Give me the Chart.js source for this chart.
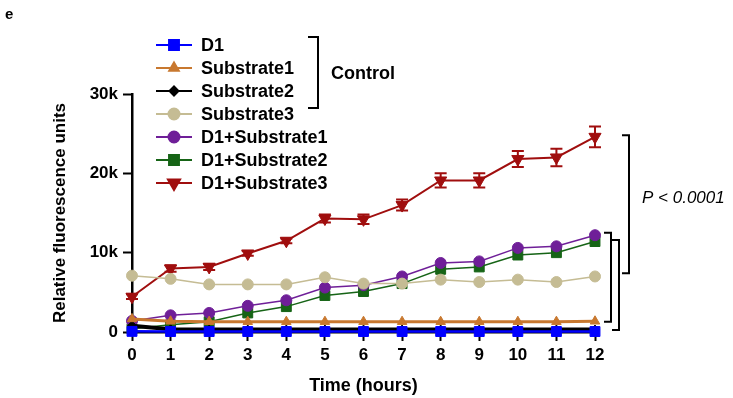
<!DOCTYPE html>
<html>
<head>
<meta charset="utf-8">
<script src="https://cdn.jsdelivr.net/npm/chart.js@4"></script>
<style>
html, body { margin: 0; padding: 0; background: #fff; }
</style>
</head>
<body>
<canvas id="lineChart" width="733" height="398"></canvas>
<script>
// Data (relative fluorescence units)
const hours = [0, 1, 2, 3, 4, 5, 6, 7, 8, 9, 10, 11, 12];
const d1 = [80, 60, 60, 60, 60, 60, 60, 60, 60, 60, 60, 60, 60];
const substrate1 = [1650, 1350, 1300, 1300, 1300, 1300, 1300, 1300, 1300, 1300, 1300, 1300, 1350];
const substrate2 = [800, 350, 300, 300, 300, 300, 300, 300, 300, 300, 300, 300, 300];
const substrate3 = [7100, 6700, 6000, 6000, 6000, 6900, 6100, 6100, 6600, 6300, 6600, 6300, 7000];
const d1Sub1 = [1400, 2100, 2400, 3300, 4000, 5600, 5900, 7000, 8700, 8900, 10600, 10800, 12200];
const d1Sub2 = [400, 900, 1300, 2400, 3200, 4600, 5100, 6100, 7900, 8200, 9700, 10000, 11400];
const d1Sub3 = [4450, 8000, 8200, 9900, 11500, 14300, 14200, 16000, 19100, 19100, 21800, 22000, 24600];
const d1Sub3Err = [300, 400, 400, 300, 300, 500, 600, 700, 900, 900, 1000, 1100, 1300];
const yTicks = [0, 10000, 20000, 30000];

const FONT = "'Liberation Sans', Arial, sans-serif";

function series(label, data, color, style, radius, width, extra) {
    return Object.assign({
        label: label,
        data: data,
        borderColor: color,
        backgroundColor: color,
        pointBackgroundColor: color,
        pointBorderColor: color,
        pointStyle: style,
        pointRadius: radius,
        pointBorderWidth: 1,
        borderWidth: width,
        tension: 0,
        clip: false
    }, extra || {});
}

// error bars for D1+Substrate3, placed through the y scale
const errorBars = {
    id: "errorBars",
    afterDatasetsDraw(chart) {
        const { ctx, scales: { x, y } } = chart;
        ctx.save();
        ctx.strokeStyle = "#a00e0e";
        ctx.lineWidth = 2;
        d1Sub3.forEach((v, i) => {
            const px = x.getPixelForValue(hours[i]);
            const top = y.getPixelForValue(v + d1Sub3Err[i]);
            const bot = y.getPixelForValue(v - d1Sub3Err[i]);
            ctx.beginPath();
            ctx.moveTo(px, top); ctx.lineTo(px, bot);
            ctx.moveTo(px - 6, top); ctx.lineTo(px + 6, top);
            ctx.moveTo(px - 6, bot); ctx.lineTo(px + 6, bot);
            ctx.stroke();
        });
        ctx.restore();
    }
};

// legend with line + marker, brackets and annotations
const decorations = {
    id: "decorations",
    afterDraw(chart) {
        const { ctx, chartArea, scales: { y } } = chart;
        ctx.save();

        // panel letter
        ctx.fillStyle = "#000";
        ctx.font = "bold 15px " + FONT;
        ctx.textBaseline = "middle";
        ctx.textAlign = "left";
        ctx.fillText("e", 5, 15);

        // legend
        chart.data.datasets.forEach((ds, i) => {
            const cy = 45 + i * 23;
            ctx.strokeStyle = ds.borderColor;
            ctx.lineWidth = 2;
            ctx.beginPath();
            ctx.moveTo(156, cy); ctx.lineTo(192, cy);
            ctx.stroke();
            ctx.fillStyle = ds.borderColor;
            Chart.helpers.drawPoint(ctx, {
                pointStyle: ds.pointStyle,
                radius: ds.pointRadius,
                rotation: ds.pointRotation || 0,
                borderWidth: 1
            }, 174, cy);
            ctx.fillStyle = "#000";
            ctx.font = "bold 18px " + FONT;
            ctx.fillText(ds.label, 201, cy + 1);
        });

        ctx.strokeStyle = "#000";
        ctx.lineWidth = 2;

        // Control bracket
        ctx.beginPath();
        ctx.moveTo(308, 37); ctx.lineTo(318, 37); ctx.lineTo(318, 108); ctx.lineTo(308, 108);
        ctx.stroke();
        ctx.fillStyle = "#000";
        ctx.font = "bold 18px " + FONT;
        ctx.fillText("Control", 331, 74);

        // significance brackets
        const bracket = (x, lo, hi) => {
            const t = y.getPixelForValue(hi), b = y.getPixelForValue(lo);
            ctx.beginPath();
            ctx.moveTo(x - 7, t); ctx.lineTo(x, t); ctx.lineTo(x, b); ctx.lineTo(x - 7, b);
            ctx.stroke();
        };
        bracket(chartArea.right + 16, 1300, 12500);
        bracket(chartArea.right + 24, 250, 11600);
        bracket(chartArea.right + 34, 7400, 24800);

        ctx.font = "italic 17px " + FONT;
        ctx.fillText("P < 0.0001", 642, 198);
        ctx.restore();
    }
};

const ctx = document.getElementById("lineChart").getContext("2d");
const lineChart = new Chart(ctx, {
    type: "line",
    data: {
        labels: hours,
        datasets: [
            series("D1", d1, "#0000ff", "rect", 7, 2.5),
            series("Substrate1", substrate1, "#c8782f", "triangle", 5.5, 3),
            series("Substrate2", substrate2, "#000000", "rectRot", 4.5, 4),
            series("Substrate3", substrate3, "#c5bc94", "circle", 5.5, 1.5),
            series("D1+Substrate1", d1Sub1, "#6f1f98", "circle", 5.5, 1.5),
            series("D1+Substrate2", d1Sub2, "#166416", "rect", 7, 1.5),
            series("D1+Substrate3", d1Sub3, "#a00e0e", "triangle", 7, 2, { pointRotation: 180 })
        ]
    },
    options: {
        responsive: false,
        animation: false,
        layout: { padding: { top: 94, right: 138, left: 0, bottom: 0 } },
        plugins: {
            legend: { display: false },
            tooltip: { enabled: false }
        },
        scales: {
            x: {
                type: "linear",
                min: 0,
                max: 12,
                afterFit(scale) { scale.height = 66; },
                afterBuildTicks(scale) { scale.ticks = hours.map(v => ({ value: v })); },
                grid: { drawOnChartArea: false, tickLength: 9, tickColor: "#000", tickWidth: 2 },
                border: { color: "#000", width: 2.5 },
                ticks: { color: "#000", padding: 4, font: { family: FONT, size: 17, weight: "bold" } },
                title: {
                    display: true,
                    text: "Time (hours)",
                    color: "#000",
                    padding: { top: 0, bottom: 1 },
                    font: { family: FONT, size: 18, weight: "bold" }
                }
            },
            y: {
                min: 0,
                max: 30000,
                afterFit(scale) { scale.width = 132; },
                afterBuildTicks(scale) { scale.ticks = yTicks.map(v => ({ value: v })); },
                grid: { drawOnChartArea: false, tickLength: 9, tickColor: "#000", tickWidth: 2 },
                border: { color: "#000", width: 2.5 },
                ticks: {
                    color: "#000",
                    padding: 5,
                    font: { family: FONT, size: 17, weight: "bold" },
                    callback: v => v === 0 ? "0" : (v / 1000) + "k"
                },
                title: {
                    display: true,
                    text: "Relative fluorescence units",
                    color: "#000",
                    padding: { top: 50, bottom: 0 },
                    font: { family: FONT, size: 17, weight: "bold" }
                }
            }
        }
    },
    plugins: [errorBars, decorations]
});
</script>
</body>
</html>
